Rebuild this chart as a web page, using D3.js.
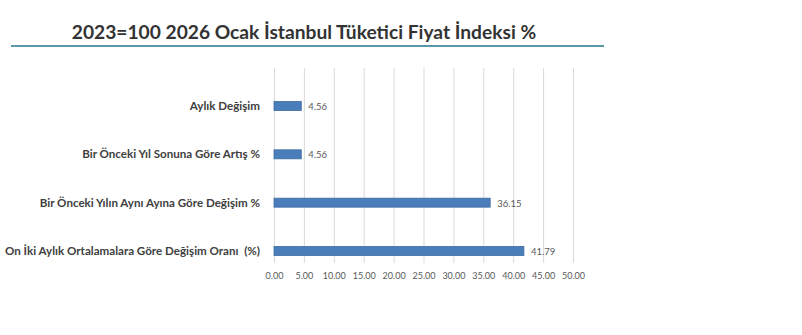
<!DOCTYPE html>
<html><head><meta charset="utf-8">
<script src="https://cdn.jsdelivr.net/npm/d3@7"></script>
<style>body{margin:0;background:#fff}svg{display:block}</style>
</head><body>
<script>
const title = "2023=100 2026 Ocak İstanbul Tüketici Fiyat İndeksi %";
const categories = ["Aylık Değişim", "Bir Önceki Yıl Sonuna Göre Artış %", "Bir Önceki Yılın Aynı Ayına Göre Değişim %", "On İki Aylık Ortalamalara Göre Değişim Oranı  (%)"];
const values = [4.56, 4.56, 36.15, 41.79];
const valueLabels = ["4.56", "4.56", "36.15", "41.79"];
const ticks = [0, 5, 10, 15, 20, 25, 30, 35, 40, 45, 50];

const W = 802, H = 335;
const svg = d3.select("body").append("svg").attr("width", W).attr("height", H);

const x = d3.scaleLinear().domain([0, 50]).range([274, 573]);
const y = d3.scalePoint().domain(categories).range([106, 251]);
const barH = 9;
const font = "Lato, 'Open Sans', sans-serif";

// title
svg.append("text").attr("x", 304).attr("y", 39).attr("text-anchor", "middle")
  .attr("font-family", font).attr("font-weight", "bold").attr("font-size", 19.2)
  .attr("fill", "#333").text(title);
svg.append("line").attr("x1", 11).attr("x2", 604).attr("y1", 46).attr("y2", 46)
  .attr("stroke", "#5b97a6").attr("stroke-width", 2);

// gridlines + tick labels via axis
const axis = d3.axisBottom(x).tickValues(ticks).tickFormat(d3.format(".2f")).tickSize(-(263 - 68)).tickPadding(10);
const g = svg.append("g").attr("transform", "translate(0,263)").call(axis);
g.select(".domain").remove();
g.selectAll(".tick line").attr("stroke", "#d9d9d9").attr("stroke-width", 1);
g.selectAll(".tick text").attr("font-family", font).attr("font-size", 9).attr("fill", "#595959");

// bars
svg.selectAll("rect.bar").data(categories).join("rect").attr("class", "bar")
  .attr("x", x(0)).attr("y", d => y(d) - barH / 2)
  .attr("width", (d, i) => x(values[i]) - x(0)).attr("height", barH)
  .attr("fill", "#4a7ebb").attr("stroke", "#3d6ba3").attr("stroke-width", 0.8);

// value labels
svg.selectAll("text.val").data(categories).join("text").attr("class", "val")
  .attr("x", (d, i) => x(values[i]) + 7).attr("y", d => y(d) + 4)
  .attr("font-family", font).attr("font-size", 9.5).attr("fill", "#595959")
  .text((d, i) => valueLabels[i]);

// category labels
svg.selectAll("text.cat").data(categories).join("text").attr("class", "cat")
  .attr("x", 260).attr("y", d => y(d) + 4).attr("text-anchor", "end")
  .attr("font-family", font).attr("font-weight", "bold").attr("font-size", 11.6)
  .attr("fill", "#404040").style("white-space", "pre").attr("xml:space", "preserve")
  .text(d => d);
</script>
</body></html>
